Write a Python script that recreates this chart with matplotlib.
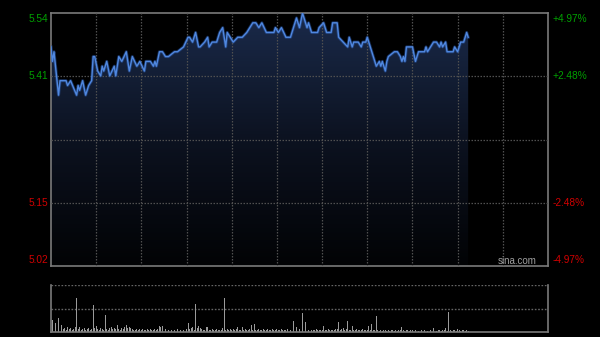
import numpy as np
import matplotlib.pyplot as plt
from matplotlib.colors import LinearSegmentedColormap

# minute index (0 = 9:30) and price at the turning points of the intraday line
price_min = [0, 1, 2, 5, 6, 10, 11, 13, 17, 18, 19, 21, 23, 25, 27, 28, 29, 31, 33, 34,
             35, 37, 39, 42, 43, 45, 47, 50, 52, 54, 57, 59, 62, 63, 66, 68, 69, 70, 72, 74,
             76, 78, 82, 84, 88, 91, 92, 94, 96, 98, 99, 102, 104, 105, 107, 110, 112, 114, 116, 117,
             119, 121, 124, 127, 130, 132, 134, 136, 138, 140, 143, 148, 149, 151, 153, 156, 159, 161, 163, 165,
             167, 169, 170, 171, 173, 177, 178, 181, 183, 186, 187, 190, 191, 194, 197, 198, 200, 201, 204, 206,
             207, 209, 210, 213, 214, 216, 218, 219, 220, 222, 223, 224, 228, 230, 232, 233, 234, 235, 236, 240,
             242, 244, 248, 249, 250, 252, 254, 256, 258, 259, 260, 262, 263, 267, 268, 270, 272, 274, 276, 277]
price = [5.47, 5.44, 5.46, 5.37, 5.40, 5.40, 5.39, 5.40, 5.37, 5.39, 5.38, 5.40, 5.37, 5.39, 5.40, 5.45, 5.45, 5.42, 5.41, 5.43,
         5.42, 5.44, 5.41, 5.43, 5.41, 5.45, 5.44, 5.46, 5.42, 5.45, 5.43, 5.44, 5.42, 5.44, 5.44, 5.43, 5.44, 5.43, 5.46, 5.46,
         5.45, 5.45, 5.46, 5.46, 5.47, 5.49, 5.49, 5.48, 5.50, 5.47, 5.47, 5.48, 5.49, 5.47, 5.48, 5.48, 5.50, 5.51, 5.47, 5.50,
         5.49, 5.48, 5.49, 5.49, 5.50, 5.51, 5.52, 5.52, 5.51, 5.52, 5.50, 5.50, 5.51, 5.50, 5.51, 5.49, 5.49, 5.51, 5.53, 5.51,
         5.54, 5.52, 5.51, 5.52, 5.50, 5.50, 5.51, 5.52, 5.50, 5.50, 5.52, 5.52, 5.49, 5.48, 5.47, 5.49, 5.47, 5.48, 5.48, 5.47,
         5.48, 5.48, 5.49, 5.46, 5.45, 5.43, 5.44, 5.43, 5.44, 5.42, 5.44, 5.45, 5.46, 5.46, 5.45, 5.44, 5.45, 5.44, 5.47, 5.47,
         5.44, 5.46, 5.46, 5.47, 5.46, 5.47, 5.48, 5.48, 5.47, 5.48, 5.47, 5.48, 5.46, 5.46, 5.47, 5.46, 5.48, 5.48, 5.50, 5.49]

# volume per minute (arbitrary units)
volume = [12, 12, 15, 9, 4, 14, 10, 7, 3, 4, 2, 5, 3, 4, 2, 3, 5, 33, 3, 5,
          2, 3, 4, 2, 3, 4, 2, 3, 26, 4, 6, 3, 2, 4, 3, 2, 17, 3, 2, 4,
          5, 3, 4, 3, 7, 3, 2, 4, 3, 5, 7, 4, 5, 4, 3, 2, 2, 3, 2, 3,
          2, 3, 2, 2, 3, 2, 3, 2, 2, 3, 2, 3, 6, 5, 6, 2, 3, 2, 2, 3,
          2, 3, 2, 2, 3, 2, 2, 3, 2, 2, 3, 9, 3, 4, 5, 2, 27, 4, 6, 4,
          3, 2, 2, 5, 5, 2, 2, 3, 2, 2, 3, 2, 2, 2, 4, 33, 2, 3, 2, 3,
          2, 3, 2, 3, 5, 2, 2, 5, 2, 3, 2, 2, 3, 7, 2, 8, 2, 2, 3, 2,
          2, 3, 2, 2, 3, 2, 2, 3, 2, 2, 3, 2, 2, 3, 2, 2, 2, 3, 2, 2,
          3, 11, 2, 5, 10, 3, 14, 19, 6, 10, 2, 2, 3, 2, 2, 2, 3, 2, 2, 2,
          2, 6, 2, 2, 3, 2, 2, 2, 2, 3, 3, 10, 2, 3, 4, 2, 3, 11, 2, 2,
          6, 2, 2, 3, 2, 2, 2, 3, 2, 2, 2, 6, 2, 8, 2, 2, 16, 2, 1, 2,
          1, 2, 2, 1, 2, 1, 2, 2, 1, 2, 1, 2, 2, 5, 2, 1, 2, 2, 1, 2,
          2, 1, 2, 2, 1, 2, 2, 1, 2, 2, 1, 2, 2, 1, 4, 2, 1, 2, 2, 1,
          2, 2, 4, 1, 20, 2, 1, 2, 2, 1, 3, 2, 1, 2, 2, 1, 2, 1]

prev_close = 5.278
pct_max = 4.97
total_min = 330  # HK session: 9:30-12:00, 13:00-16:00

lo = prev_close * (1 - pct_max / 100)
hi = prev_close * (1 + pct_max / 100)
levels = [hi, prev_close * (1 + pct_max / 200), prev_close,
          prev_close * (1 - pct_max / 200), lo]

grid_c = '#505050'
spine_c = '#7a7a7a'
green = '#00a000'
red = '#d00000'

fig = plt.figure(figsize=(6, 3.37), dpi=100, facecolor='black')
ax = fig.add_axes([51 / 600, 71 / 337, 497 / 600, 253 / 337], facecolor='black')
axv = fig.add_axes([51 / 600, 5 / 337, 497 / 600, 47 / 337], facecolor='black')

# price panel
for x in range(30, total_min, 30):
    ax.axvline(x, color=grid_c, lw=0.9, ls=(0, (1.2, 1.2)), zorder=3)
for lv in levels[1:4]:
    ax.axhline(lv, color=grid_c, lw=0.9, ls=(0, (1.2, 1.2)), zorder=3)

cmap = LinearSegmentedColormap.from_list('fade', ['#020305', '#0c1220', '#1a2a4a'])
grad = np.linspace(0, 1, 256).reshape(-1, 1)
poly = ax.fill_between(price_min, price, lo, color='none', lw=0)
img = ax.imshow(grad, aspect='auto', cmap=cmap, origin='lower',
                extent=[0, price_min[-1], lo, hi], zorder=2)
img.set_clip_path(poly.get_paths()[0], transform=ax.transData)
ax.set_xlim(0, total_min)
ax.set_ylim(lo, hi)
ax.plot(price_min, price, color='#2c5cb0', lw=2.2, alpha=0.5, zorder=4)
ax.plot(price_min, price, color='#5088e0', lw=1.0, zorder=5)

ax.set_xticks([])
ax.set_yticks([])
for s in ax.spines.values():
    s.set_color(spine_c)
    s.set_linewidth(1.2)

offs = [-4.3, 0, 0, 0, 4.3]
pcts = ['+4.97%', '+2.48%', '', '-2.48%', '-4.97%']
for i, lv in enumerate(levels):
    if i == 2:
        continue
    c = green if i < 2 else red
    ax.annotate(f'{lv:.2f}', xy=(0, lv), xycoords=('axes fraction', 'data'),
                xytext=(-2, offs[i]), textcoords='offset points',
                ha='right', va='center', color=c, fontsize=7.3, family='Liberation Sans')
    ax.annotate(pcts[i], xy=(1, lv), xycoords=('axes fraction', 'data'),
                xytext=(3.5, offs[i]), textcoords='offset points',
                ha='left', va='center', color=c, fontsize=7.3, family='Liberation Sans')

ax.text(0.978, 0.02, 'sina.com', transform=ax.transAxes, ha='right', va='center',
        color='#a0a0a0', fontsize=7, family='Liberation Sans', zorder=6)

# volume panel
vmax = 46
axv.set_xlim(0, total_min)
axv.set_ylim(0, vmax)
axv.bar(np.arange(len(volume)), volume, width=0.6, color='#9a9a9a', lw=0, zorder=2)
for yv in [vmax / 2, vmax]:
    axv.axhline(yv, color='#666666', lw=1.0, ls=(0, (1.2, 1.2)), zorder=1)
axv.set_xticks([])
axv.set_yticks([])
axv.spines['top'].set_visible(False)
for k in ['left', 'right', 'bottom']:
    axv.spines[k].set_color(spine_c)
    axv.spines[k].set_linewidth(1.2)

fig.savefig('out.png', dpi=100, facecolor='black')
